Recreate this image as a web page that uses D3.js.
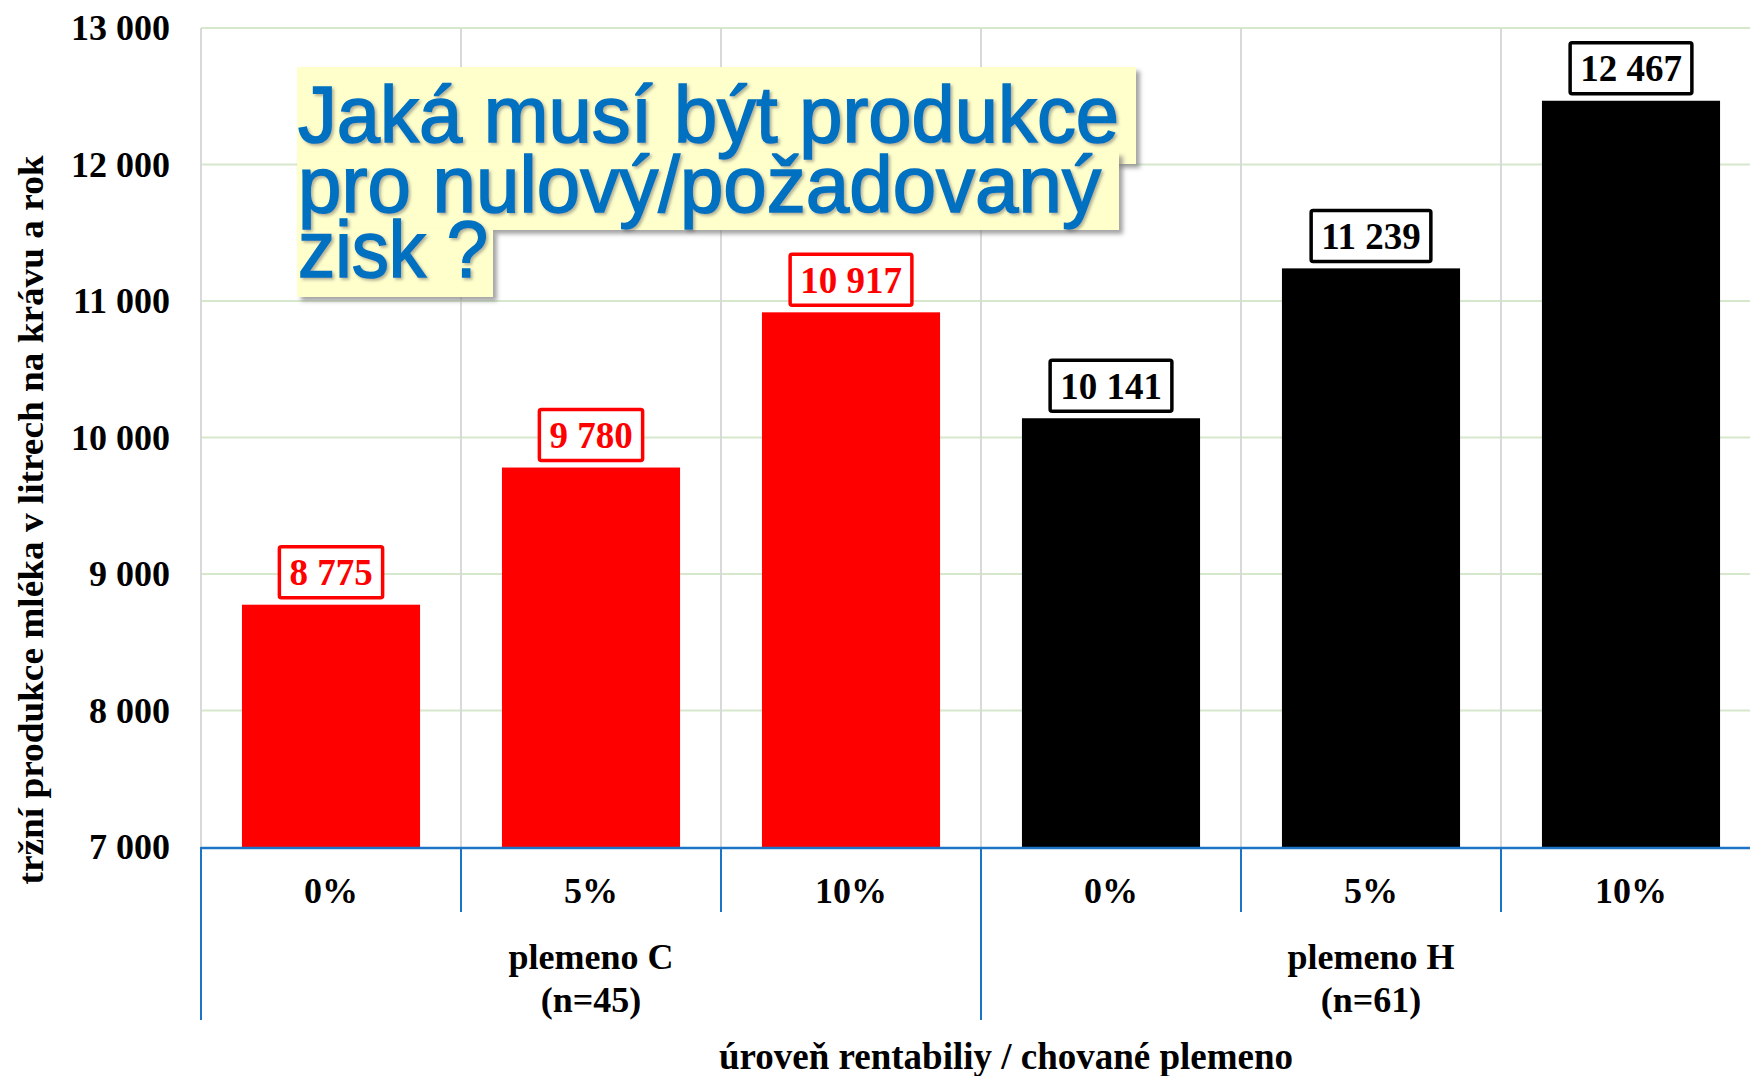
<!DOCTYPE html>
<html>
<head>
<meta charset="utf-8">
<script src="https://cdn.jsdelivr.net/npm/d3@7"></script>
<style>
  html, body { margin: 0; padding: 0; background: #fff; }
  svg { display: block; }
</style>
</head>
<body>
<svg id="chart" width="1750" height="1076"></svg>
<script>
var groups = ["plemeno C", "plemeno H"];
var groupCounts = ["(n=45)", "(n=61)"];
var levels = ["0%", "5%", "10%"];
var valuesC = [8775, 9780, 10917];
var valuesH = [10141, 11239, 12467];
var groupColors = ["#ff0000", "#000000"];
var yTicks = [7000, 8000, 9000, 10000, 11000, 12000, 13000];
var titleLines = ["Jaká musí být produkce", "pro nulový/požadovaný", "zisk ?"];
var yTitle = "tržní produkce mléka v litrech na krávu a rok";
var xTitle = "úroveň rentabiliy / chované plemeno";

var serif = "'Liberation Serif', 'Times New Roman', serif";
var sans = "'Liberation Sans', Arial, sans-serif";
var axisBlue = "#1c74c6";

// flatten groups into bar records
var bars = [];
[valuesC, valuesH].forEach(function (vals, g) {
    vals.forEach(function (v, i) {
        bars.push({ key: g + "-" + i, group: g, level: levels[i], value: v });
    });
});

var plot = { left: 201, right: 1761, top: 28, bottom: 847 };
var svg = d3.select("#chart");

var x = d3.scaleBand()
    .domain(bars.map(function (d) { return d.key; }))
    .range([plot.left, plot.right])
    .paddingInner(0.315)
    .paddingOuter(0.1575);
var step = x.step();

var y = d3.scaleLinear().domain([7000, 13000]).range([plot.bottom, plot.top]);

var cs = d3.formatLocale({ decimal: ",", thousands: "\u00a0", grouping: [3], currency: ["", ""] });
var fmt = cs.format(",d");

var defs = svg.append("defs");
var sh = defs.append("filter").attr("id", "shadow").attr("x", "-5%").attr("y", "-10%").attr("width", "115%").attr("height", "130%");
sh.append("feDropShadow").attr("dx", 4).attr("dy", 4).attr("stdDeviation", 2).attr("flood-color", "#7f7f7f").attr("flood-opacity", 0.7);
var tsh = defs.append("filter").attr("id", "tshadow");
tsh.append("feDropShadow").attr("dx", 2).attr("dy", 2).attr("stdDeviation", 1.5).attr("flood-color", "#555").attr("flood-opacity", 0.45);

// gridlines
svg.append("g").selectAll("line").data(yTicks.slice(1)).join("line")
    .attr("x1", plot.left).attr("x2", 1750)
    .attr("y1", function (d) { return y(d); }).attr("y2", function (d) { return y(d); })
    .attr("stroke", "#d5e8cc").attr("stroke-width", 2);

var bounds = d3.range(bars.length + 1).map(function (i) { return plot.left + i * step; });
svg.append("g").selectAll("line").data(bounds).join("line")
    .attr("x1", function (d) { return d; }).attr("x2", function (d) { return d; })
    .attr("y1", plot.top).attr("y2", plot.bottom)
    .attr("stroke", "#d9d9d9").attr("stroke-width", 2);

// bars
svg.append("g").selectAll("rect").data(bars).join("rect")
    .attr("x", function (d) { return x(d.key); })
    .attr("width", x.bandwidth())
    .attr("y", function (d) { return y(d.value); })
    .attr("height", function (d) { return y(7000) - y(d.value); })
    .attr("fill", function (d) { return groupColors[d.group]; });

// value labels in boxes
var lab = svg.append("g").selectAll("g").data(bars).join("g");
lab.append("rect").attr("class", "box");
lab.append("text")
    .attr("x", function (d) { return x(d.key) + x.bandwidth() / 2; })
    .attr("y", function (d) { return y(d.value) - 32; })
    .attr("text-anchor", "middle")
    .attr("dominant-baseline", "central")
    .attr("font-family", serif).attr("font-weight", "bold").attr("font-size", 37)
    .attr("fill", function (d) { return groupColors[d.group]; })
    .text(function (d) { return fmt(d.value); });
lab.each(function (d) {
    var g = d3.select(this);
    var w = g.select("text").node().getComputedTextLength() + 20;
    var cx = x(d.key) + x.bandwidth() / 2;
    g.select("rect")
        .attr("x", cx - w / 2).attr("width", w)
        .attr("y", y(d.value) - 58).attr("height", 51)
        .attr("fill", "#fff").attr("rx", 2)
        .attr("stroke", groupColors[d.group]).attr("stroke-width", 3.5);
});

// y axis labels
svg.append("g").selectAll("text").data(yTicks).join("text")
    .attr("x", 170).attr("y", function (d) { return y(d); })
    .attr("text-anchor", "end").attr("dominant-baseline", "central")
    .attr("font-family", serif).attr("font-weight", "bold").attr("font-size", 36)
    .text(function (d) { return fmt(d); });

// category axis, two levels
var ax = svg.append("g");
ax.append("line").attr("x1", plot.left).attr("x2", 1750).attr("y1", plot.bottom + 1).attr("y2", plot.bottom + 1)
    .attr("stroke", axisBlue).attr("stroke-width", 2.5);
ax.selectAll("line.tick").data(bounds).join("line").attr("class", "tick")
    .attr("x1", function (d) { return d; }).attr("x2", function (d) { return d; })
    .attr("y1", plot.bottom).attr("y2", function (d, i) { return i % 3 === 0 ? 1020 : 912; })
    .attr("stroke", axisBlue).attr("stroke-width", 2);
ax.selectAll("text.lvl").data(bars).join("text").attr("class", "lvl")
    .attr("x", function (d) { return x(d.key) + x.bandwidth() / 2; })
    .attr("y", 891)
    .attr("text-anchor", "middle").attr("dominant-baseline", "central")
    .attr("font-family", serif).attr("font-weight", "bold").attr("font-size", 36)
    .text(function (d) { return d.level; });
var grp = ax.selectAll("g.grp").data(groups).join("g").attr("class", "grp")
    .attr("transform", function (d, i) { return "translate(" + (plot.left + (i * 3 + 1.5) * step) + ",0)"; });
grp.append("text").attr("y", 957)
    .attr("text-anchor", "middle").attr("dominant-baseline", "central")
    .attr("font-family", serif).attr("font-weight", "bold").attr("font-size", 36)
    .text(function (d) { return d; });
grp.append("text").attr("y", 1000)
    .attr("text-anchor", "middle").attr("dominant-baseline", "central")
    .attr("font-family", serif).attr("font-weight", "bold").attr("font-size", 36)
    .text(function (d, i) { return groupCounts[i]; });

// axis titles
svg.append("text").attr("x", 1006).attr("y", 1056)
    .attr("text-anchor", "middle").attr("dominant-baseline", "central")
    .attr("font-family", serif).attr("font-weight", "bold").attr("font-size", 37)
    .text(xTitle);
svg.append("text").attr("transform", "translate(31,520) rotate(-90)")
    .attr("text-anchor", "middle").attr("dominant-baseline", "central")
    .attr("font-family", serif).attr("font-weight", "bold").attr("font-size", 35)
    .attr("textLength", 729).attr("lengthAdjust", "spacingAndGlyphs")
    .text(yTitle);

// title note with highlighted lines
var note = svg.append("g");
var hl = [
    { x: 297, y: 67, w: 839, h: 97 },
    { x: 297, y: 152, w: 822, h: 78 },
    { x: 297, y: 229, w: 196, h: 68 }
];
note.selectAll("rect").data(hl).join("rect")
    .attr("x", function (d) { return d.x; }).attr("y", function (d) { return d.y; })
    .attr("width", function (d) { return d.w; }).attr("height", function (d) { return d.h; })
    .attr("fill", "#ffffcc").attr("filter", "url(#shadow)");
var lineY = [142, 212, 277];
var lineW = [821, 803, 190];
note.selectAll("text").data(titleLines).join("text")
    .attr("x", 298).attr("y", function (d, i) { return lineY[i]; })
    .attr("font-family", sans).attr("font-size", 80)
    .attr("fill", "#0070c0").attr("stroke", "#0070c0").attr("stroke-width", 1.6)
    .attr("filter", "url(#tshadow)")
    .attr("textLength", function (d, i) { return lineW[i]; })
    .attr("lengthAdjust", "spacingAndGlyphs")
    .text(function (d) { return d; });
</script>
</body>
</html>
